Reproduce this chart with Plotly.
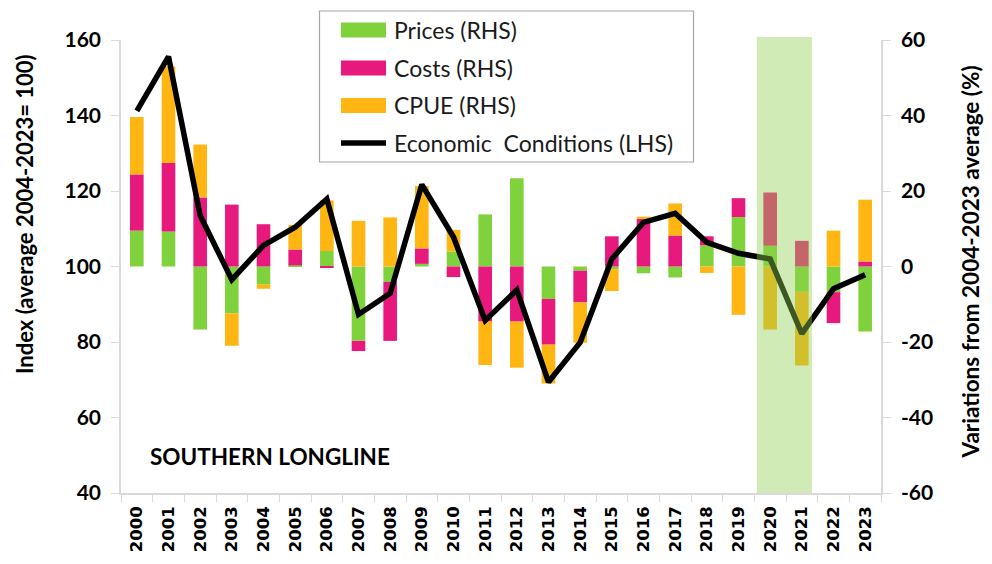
import plotly.graph_objects as go

# ---- data -------------------------------------------------------------
years = [str(y) for y in range(2000, 2024)]

# contributions to the change from the 2004-2023 average (%, right axis)
prices = [9.5, 9.3, -16.7, -12.4, -4.8, 0.3, 4.1, -19.7, -4.1, 0.7, 4.0, 13.8,
          23.4, -8.6, -1.1, -0.7, -1.8, -2.9, 5.6, 13.1, 5.5, -6.7, -6.8, -17.2]
costs = [14.9, 18.1, 18.3, 16.4, 11.2, 4.2, -0.4, -2.7, -15.6, 4.1, -2.8, -14.6,
         -14.6, -12.1, -8.4, 8.0, 12.6, 8.2, 2.4, 5.0, 14.1, 6.8, -8.2, 1.3]
cpue = [15.2, 25.6, 14.0, -8.6, -1.1, 6.5, 13.4, 12.1, 13.0, 16.5, 5.7, -11.5,
        -12.2, -10.3, -10.7, -5.8, 0.6, 8.5, -1.7, -12.8, -16.7, -19.5, 9.5, 16.4]

# economic conditions index (average 2004-2023 = 100, left axis)
econ = [141.2, 155.6, 113.5, 96.5, 105.6, 110.4, 117.9, 87.3, 92.9, 121.7, 107.8,
        85.7, 93.8, 69.4, 79.9, 102.0, 111.7, 114.1, 106.4, 103.5, 102.0, 82.2,
        94.1, 97.8]

left_ticks = [40, 60, 80, 100, 120, 140, 160]
right_ticks = [-60, -40, -20, 0, 20, 40, 60]

series = [("Prices (RHS)", prices, "#80D23C"),
          ("Costs (RHS)", costs, "#E8197D"),
          ("CPUE (RHS)", cpue, "#FFB612")]
line_name = "Economic  Conditions (LHS)"
panel_label = "SOUTHERN LONGLINE"

# ---- layout helpers (plot area in pixels) ----------------------------
W, H = 992, 564
L, R, T, B = 121, 881, 40, 493


def px(x):
    return (x - L) / (R - L)


def py(y):
    return (B - y) / (B - T)


FONT = "Lato"
AXIS_GREY = "#d9d9d9"

fig = go.Figure()

for name, vals, col in series:
    fig.add_trace(go.Bar(x=years, y=vals, name=name, marker_color=col,
                         marker_line_width=0, yaxis="y", showlegend=False))

fig.add_trace(go.Scatter(x=years, y=econ, name=line_name, mode="lines",
                         line=dict(color="black", width=5.5), yaxis="y2",
                         showlegend=False))

shapes = []
annotations = []

# highlighted 2020-2021 period
shapes.append(dict(type="rect", xref="x", yref="paper", x0=19.58, x1=21.32,
                   y0=0, y1=py(37), fillcolor="rgba(146,208,80,0.42)",
                   line_width=0, layer="above"))

# legend box
shapes.append(dict(type="rect", xref="paper", yref="paper",
                   x0=px(319.5), x1=px(693.5), y0=py(11), y1=py(162),
                   line=dict(color="#a6a6a6", width=1.2), fillcolor="white",
                   layer="above"))
rows = [30, 68, 105.5, 143]
for (name, _, col), ry in zip(series, rows[:3]):
    shapes.append(dict(type="rect", xref="paper", yref="paper",
                       x0=px(341), x1=px(386), y0=py(ry + 7.5), y1=py(ry - 7.5),
                       fillcolor=col, line_width=0, layer="above"))
    annotations.append(dict(text=name, xref="paper", yref="paper",
                            x=px(392), y=py(ry), xanchor="left", yanchor="middle",
                            showarrow=False,
                            font=dict(family=FONT, size=23, color="#1a1a1a")))
shapes.append(dict(type="line", xref="paper", yref="paper",
                   x0=px(341), x1=px(386), y0=py(rows[3]), y1=py(rows[3]),
                   line=dict(color="black", width=5.5), layer="above"))
annotations.append(dict(text=line_name, xref="paper", yref="paper",
                        x=px(392), y=py(rows[3]), xanchor="left",
                        yanchor="middle", showarrow=False,
                        font=dict(family=FONT, size=23, color="#1a1a1a")))

# panel label
annotations.append(dict(text="<b>" + panel_label + "</b>", xref="paper",
                        yref="paper", x=px(270), y=py(456), xanchor="center",
                        yanchor="middle", showarrow=False,
                        font=dict(family=FONT, size=22.5, color="black")))

# axis titles
annotations.append(dict(text="<b>Index (average 2004-2023= 100)</b>",
                        xref="paper", yref="paper", x=px(25), y=py(214),
                        textangle=-90, showarrow=False, xanchor="center",
                        yanchor="middle",
                        font=dict(family=FONT, size=22, color="black")))
annotations.append(dict(text="<b>Variations from 2004-2023 average (%)</b>",
                        xref="paper", yref="paper", x=px(970), y=py(262.5),
                        textangle=-90, showarrow=False, xanchor="center",
                        yanchor="middle",
                        font=dict(family=FONT, size=22.5, color="black")))

fig.update_layout(
    width=W, height=H,
    margin=dict(l=L, r=W - R, t=T, b=H - B),
    paper_bgcolor="white", plot_bgcolor="white",
    barmode="relative", bargap=0.57,
    shapes=shapes, annotations=annotations,
    xaxis=dict(type="category", tickson="boundaries", ticks="outside",
               ticklen=7, tickcolor=AXIS_GREY, showline=True,
               linecolor=AXIS_GREY, linewidth=1.5, showgrid=False,
               tickangle=-90, ticklabelstandoff=5,
               tickfont=dict(family="DejaVu Sans", size=16.5, color="black",
                             weight="bold"),
               range=[-0.5, 23.5]),
    yaxis=dict(side="right", range=[-60, 60], tickvals=right_ticks,
               ticktext=[str(v) for v in right_ticks], showgrid=False,
               zeroline=False, showline=True, linecolor=AXIS_GREY,
               linewidth=1.5, ticks="outside", ticklen=8, tickcolor=AXIS_GREY,
               ticklabelstandoff=6,
               tickfont=dict(family=FONT, size=21, color="black",
                             weight="bold")),
    yaxis2=dict(side="left", overlaying="y", range=[40, 160],
                tickvals=left_ticks, showgrid=False, zeroline=False,
                showline=True, linecolor=AXIS_GREY, linewidth=1.5,
                ticks="outside", ticklen=8, tickcolor=AXIS_GREY,
                ticklabelstandoff=6,
                tickfont=dict(family=FONT, size=21, color="black",
                              weight="bold")),
)

fig.write_html("out.html")
